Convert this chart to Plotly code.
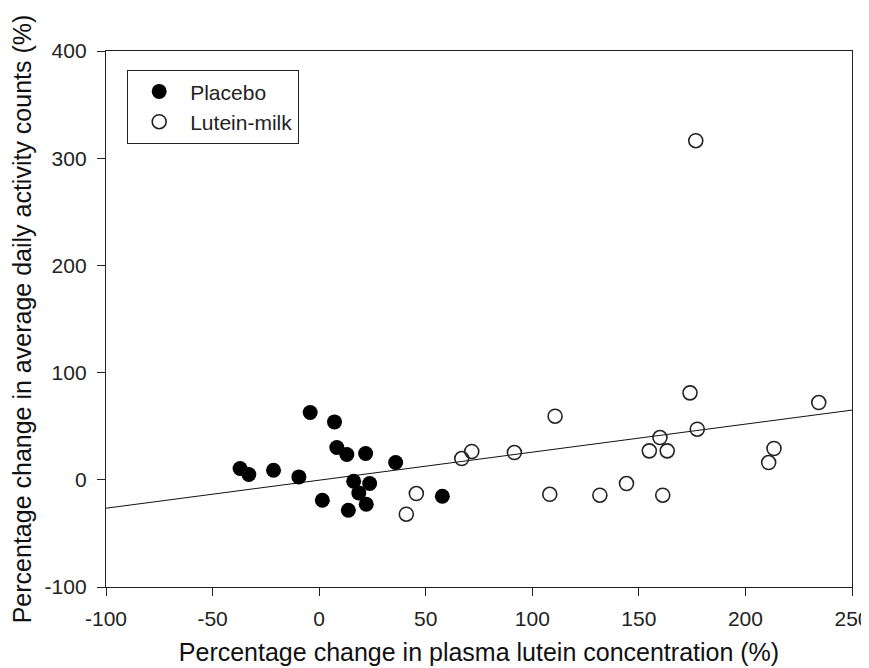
import plotly.graph_objects as go

# Placebo group (filled circles)
placebo_x = [-37.1, -33.0, -21.4, -9.5, -4.2, 7.2, 8.3, 13.0, 21.8, 35.9,
             16.2, 23.7, 18.6, 1.5, 22.1, 13.7, 57.8]
placebo_y = [10.5, 4.9, 8.9, 2.7, 62.8, 54.0, 30.1, 23.6, 24.5, 16.1,
             -1.3, -3.5, -12.2, -19.1, -22.8, -28.4, -15.3]

# Lutein-milk group (open circles)
lutein_x = [45.6, 40.9, 66.9, 71.6, 91.6, 110.7, 108.2, 131.7, 144.2, 161.2,
            154.9, 163.3, 159.9, 177.4, 174.0, 213.4, 210.9, 234.4, 176.7]
lutein_y = [-12.8, -32.1, 19.8, 26.4, 25.4, 59.3, -13.5, -14.4, -3.5, -14.4,
            27.0, 27.0, 39.4, 47.2, 81.1, 29.2, 16.1, 72.1, 316.3]

# Regression line endpoints
fit_x = [-100, 250]
fit_y = [-26.5, 65.0]

x_ticks = [-100, -50, 0, 50, 100, 150, 200, 250]
y_ticks = [-100, 0, 100, 200, 300, 400]

FONT = "Liberation Sans, Arial, sans-serif"

fig = go.Figure()
fig.add_trace(go.Scatter(
    x=fit_x, y=fit_y, mode="lines",
    line=dict(color="#111111", width=1), showlegend=False, hoverinfo="skip"))
fig.add_trace(go.Scatter(
    x=placebo_x, y=placebo_y, mode="markers", name="Placebo",
    marker=dict(symbol="circle", size=15, color="#000000",
                line=dict(width=0))))
fig.add_trace(go.Scatter(
    x=lutein_x, y=lutein_y, mode="markers", name="Lutein-milk",
    marker=dict(symbol="circle-open", size=14, color="#222222",
                line=dict(width=1.6, color="#222222"))))

axis_common = dict(
    showgrid=False, zeroline=False, showline=True, linecolor="#222222",
    linewidth=1.3, mirror=True, ticks="outside", ticklen=8, tickwidth=1.3,
    tickcolor="#222222", tickfont=dict(family=FONT, size=21, color="#222222"),
    ticklabeloverflow="allow", automargin=False,
)

fig.update_xaxes(range=[-100, 250], tickvals=x_ticks,
                 ticktext=[str(v) for v in x_ticks], ticklabelstandoff=5,
                 title=dict(text="Percentage change in plasma lutein concentration (%)",
                            font=dict(family=FONT, size=25, color="#111111"),
                            standoff=14),
                 **axis_common)
fig.update_yaxes(range=[-100, 400], tickvals=y_ticks,
                 ticktext=[str(v) for v in y_ticks], ticklabelstandoff=6,
                 title=dict(text="Percentage change in average daily activity counts (%)",
                            font=dict(family=FONT, size=25, color="#111111"),
                            standoff=8),
                 **axis_common)

# page body has an 8px margin, so the figure is shrunk by 8px on each side
fig.update_layout(
    width=861, height=660,
    margin=dict(l=98, r=17, t=43, b=81),
    plot_bgcolor="white", paper_bgcolor="white",
    legend=dict(x=0.028, y=0.9646, xanchor="left", yanchor="top",
                bordercolor="#222222", borderwidth=1.3, bgcolor="white",
                font=dict(family=FONT, size=21, color="#222222"),
                itemwidth=52, tracegroupgap=0),
    showlegend=True,
)

fig.write_html("out.html")
